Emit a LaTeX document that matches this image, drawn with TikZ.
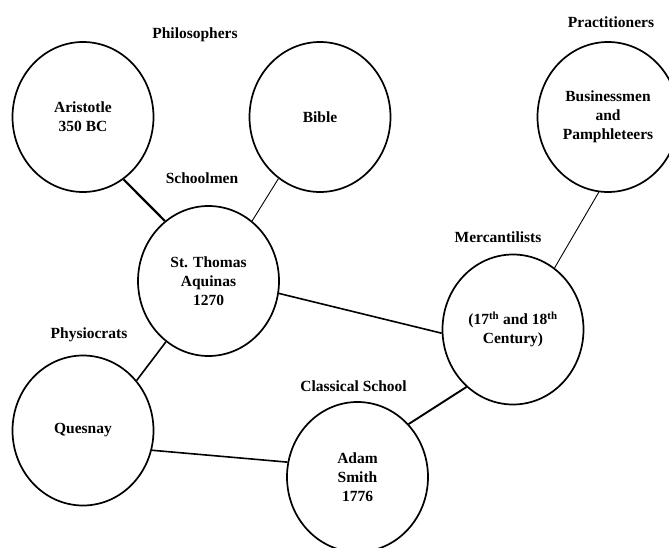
\documentclass[tikz,border=0pt]{standalone}
\usepackage{fontspec}
\setmainfont{Liberation Serif}
\usetikzlibrary{shapes.geometric}
\newcommand{\schoolfont}{\bfseries\fontsize{15.5}{19}\selectfont}

\begin{document}
\begin{tikzpicture}[x=1pt, y=-1pt,
    thinker/.style={ellipse, draw, line width=1.7pt, minimum width=141pt, minimum height=150pt, inner sep=0pt, align=center, font=\schoolfont},
    group/.style={font=\schoolfont},
    link/.style={line width=1.6pt}]

        % Page
        \useasboundingbox (0,0) rectangle (669,548);
        \clip (0,0) rectangle (669,548);

        % Circles
        \node[thinker] (Ari) at (83,117) {Aristotle\\350 BC};
        \node[thinker] (Bib) at (320,117) {Bible};
        \node[thinker] (Bus) at (608,117) {Businessmen\\and\\Pamphleteers};
        \node[thinker] (Aqu) at (208.5,281) {St. Thomas\\Aquinas\\1270};
        \node[thinker] (Mer) at (513,329.5) {(17\textsuperscript{th} and 18\textsuperscript{th}\\Century)};
        \node[thinker] (Que) at (83,430.5) {Quesnay};
        \node[thinker] (Smi) at (357.5,477) {Adam\\Smith\\1776};

        % Group Labels
        \node[group] (phil) at (195,35) {Philosophers};
        \node[group] (prac) at (611,22) {Practitioners};
        \node[group] (scho) at (202,178) {Schoolmen};
        \node[group] (merc) at (498,237) {Mercantilists};
        \node[group] (phys) at (89,335) {Physiocrats};
        \node[group] (clas) at (353.5,386) {Classical School};

        % Links
        \draw[link, line width=2.2pt] (Ari.-57) -- (Aqu.126);
        \draw[link, line width=0.9pt] (Bib.-124) -- (Aqu.54);
        \draw[link, line width=0.9pt] (Bus.-97) -- (Mer.56);
        \draw[link] (Aqu.-10) -- (Mer.183);
        \draw[link] (Aqu.-125) -- (Que.43);
        \draw[link] (Que.-16) -- (Smi.168);
        \draw[link, line width=1.9pt] (Mer.-129) -- (Smi.46);

    \end{tikzpicture}
\end{document}
